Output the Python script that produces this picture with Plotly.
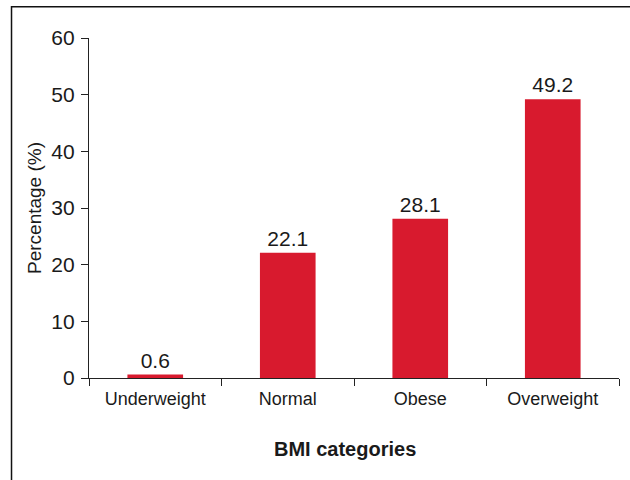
import plotly.graph_objects as go

categories = ["Underweight", "Normal", "Obese", "Overweight"]
values = [0.6, 22.1, 28.1, 49.2]
value_labels = ["0.6", "22.1", "28.1", "49.2"]
y_ticks = [0, 10, 20, 30, 40, 50, 60]

FONT = "Liberation Sans, Arial, Helvetica, sans-serif"
INK = "#1a1a1a"

fig = go.Figure(
    go.Bar(
        x=categories,
        y=values,
        text=value_labels,
        textposition="outside",
        textfont=dict(size=21, color=INK, family=FONT),
        marker=dict(color="#D81A2E", line=dict(width=0)),
        width=0.42,
        cliponaxis=False,
    )
)

fig.update_layout(
    width=630,
    height=480,
    margin=dict(l=89, r=11, t=38, b=102),
    paper_bgcolor="white",
    plot_bgcolor="white",
    font=dict(family=FONT, color=INK),
    showlegend=False,
    xaxis=dict(
        range=[-0.5, 3.5],
        showline=True,
        linecolor="#222222",
        linewidth=1.3,
        ticks="outside",
        tickson="boundaries",
        ticklen=7,
        tickwidth=1.3,
        tickcolor="#222222",
        tickfont=dict(size=18, color=INK),
        ticklabelstandoff=4,
        showgrid=False,
        zeroline=False,
        fixedrange=True,
    ),
    yaxis=dict(
        range=[0, 60],
        tickvals=y_ticks,
        showline=True,
        linecolor="#222222",
        linewidth=1.3,
        ticks="outside",
        ticklen=7,
        tickwidth=1.3,
        tickcolor="#222222",
        tickfont=dict(size=21, color=INK),
        ticklabelstandoff=2,
        showgrid=False,
        zeroline=False,
        title=dict(text="Percentage (%)", font=dict(size=19, color=INK), standoff=4),
    ),
    annotations=[
        dict(
            text="<b>BMI categories</b>",
            xref="paper", yref="paper",
            x=0.483, y=-0.209,
            xanchor="center", yanchor="middle",
            showarrow=False,
            font=dict(size=20, color=INK),
        )
    ],
    shapes=[
        dict(
            type="rect",
            xref="paper", yref="paper",
            x0=-0.1462, x1=1.1, y0=-0.4, y1=1.092,
            line=dict(color="#111111", width=1.5),
            fillcolor="rgba(0,0,0,0)",
            layer="below",
        )
    ],
)

fig.write_html("out.html")
